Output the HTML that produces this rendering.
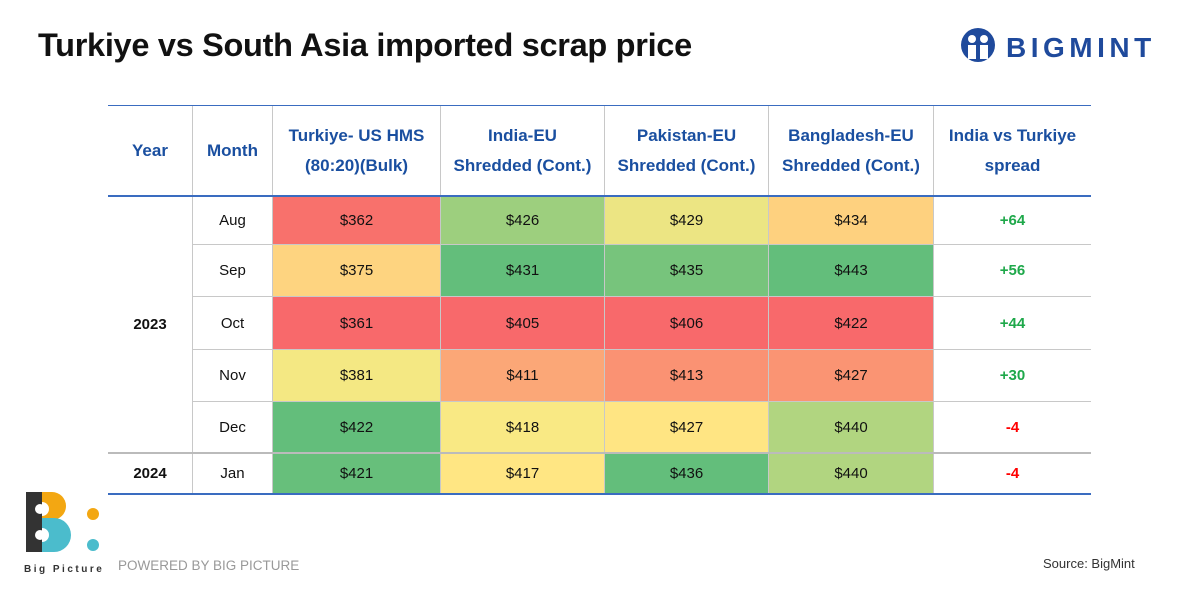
<!DOCTYPE html>
<html><head><meta charset="utf-8"><style>
body{margin:0;width:1200px;height:600px;background:#fff;font-family:"Liberation Sans",sans-serif;position:relative;overflow:hidden}
.a{position:absolute}
.cell{position:absolute;box-sizing:border-box;display:flex;align-items:center;justify-content:center;font-size:15px;color:#111;border-right:1px solid #c8c8c8;border-bottom:1px solid #c8c8c8;text-align:center}
.hd{color:#1a4fa0;font-weight:bold;font-size:17px;line-height:30px}
</style></head><body>
<div class="a" style="left:38px;top:27px;font-size:32.5px;font-weight:bold;color:#111;letter-spacing:-0.3px">Turkiye vs South Asia imported scrap price</div>
<div class="a" style="left:958px;top:26px;width:200px;height:40px">
<svg width="40" height="40" viewBox="0 0 40 40"><circle cx="20" cy="19" r="17" fill="#1f4a9c"/><circle cx="14" cy="13" r="4" fill="#fff"/><circle cx="26" cy="13" r="4" fill="#fff"/><path d="M10 19h8v14h-8zM22 19h8v14h-8z" fill="#fff"/></svg>
<span class="a" style="left:48px;top:6px;font-size:28px;font-weight:bold;color:#1f4a9c;letter-spacing:4.5px">BIGMINT</span></div>
<div id="tbl"></div>
<div class="a" style="left:24px;top:492px">
<svg width="80" height="70" viewBox="0 0 80 70"><path d="M14 0h14a14 14 0 0 1 0 28h-14z" fill="#f3a712"/><path d="M14 26h16a17 17 0 0 1 0 34h-16z" fill="#4bbccc"/><rect x="2" y="0" width="16" height="60" fill="#333"/><path d="M18 10a7 7 0 0 1 0 14zM18 36a7 7 0 0 1 0 14z" fill="#fff"/><circle cx="16" cy="17" r="5" fill="#fff"/><circle cx="16" cy="43" r="5" fill="#fff"/><circle cx="69" cy="22" r="6" fill="#f3a712"/><circle cx="69" cy="53" r="6" fill="#4bbccc"/></svg>
<div style="font-size:10px;font-weight:bold;letter-spacing:2.5px;color:#333;margin-top:-3px">Big Picture</div></div>
<div class="a" style="left:118px;top:558px;font-size:13.5px;color:#999">POWERED BY BIG PICTURE</div>
<div class="a" style="left:1043px;top:556px;font-size:13px;color:#333">Source: BigMint</div>
<script>
const months=["Aug","Sep","Oct","Nov","Dec","Jan"];
const turkiye=[362,375,361,381,422,421];
const india=[426,431,405,411,418,417];
const pakistan=[429,435,406,413,427,436];
const bangladesh=[434,443,422,427,440,440];
const headers=["Year","Month","Turkiye- US HMS<br>(80:20)(Bulk)","India-EU<br>Shredded (Cont.)","Pakistan-EU<br>Shredded (Cont.)","Bangladesh-EU<br>Shredded (Cont.)","India vs Turkiye<br>spread"];
const cols=[108,193,273,441,605,769,934,1091];
const rowY=[196,245,297,350,402,453,494];
const T=document.getElementById('tbl');
function mk(x,y,w,h,html,cls,bg){const d=document.createElement('div');d.className=cls;d.style.cssText=`left:${x}px;top:${y}px;width:${w}px;height:${h}px;`+(bg?`background:${bg};`:'');d.innerHTML=html;T.appendChild(d);return d;}
function lerp(a,b,t){return a.map((v,i)=>Math.round(v+(b[i]-v)*t));}
function color(v,arr){const s=[...arr].sort((a,b)=>a-b);const mn=s[0],mx=s[s.length-1];const md=(s[2]+s[3])/2;const R=[248,105,107],Y=[255,235,132],G=[99,190,123];let c=v<=md?lerp(R,Y,(v-mn)/(md-mn||1)):lerp(Y,G,(v-md)/(mx-md||1));return `rgb(${c.join(',')})`;}
for(let c=0;c<7;c++){const h=mk(cols[c],106,cols[c+1]-cols[c],90,headers[c],'cell hd');if(c==6)h.style.borderRight='none';}
const series=[turkiye,india,pakistan,bangladesh];
for(let r=0;r<6;r++){
 const y=rowY[r],h=rowY[r+1]-y;
 const m=mk(cols[1],y,cols[2]-cols[1],h,months[r],'cell');
 series.forEach((s,k)=>{const d=mk(cols[2+k],y,cols[3+k]-cols[2+k],h,'$'+s[r],'cell',color(s[r],s));});
 const sp=india[r]-turkiye[r];const d=mk(cols[6],y,cols[7]-cols[6],h,(sp>0?'+':'')+sp,'cell');d.style.borderRight='none';d.style.fontWeight='bold';d.style.color=sp>=0?'#1ea84a':'#f00';
 
}
const y1=mk(cols[0],196,85,257,'<b>2023</b>','cell');
const y2=mk(cols[0],453,85,41,'<b>2024</b>','cell');
function line(y,h){const l=document.createElement('div');l.className='a';l.style.cssText=`left:108px;top:${y}px;width:983px;height:${h}px;background:#3a6cc0`;T.appendChild(l);}
line(105,1);line(195,2);line(493,2);
const l2=document.createElement('div');l2.className='a';l2.style.cssText='left:108px;top:452px;width:983px;height:2px;background:#bbb';T.appendChild(l2);
</script>
</body></html>
